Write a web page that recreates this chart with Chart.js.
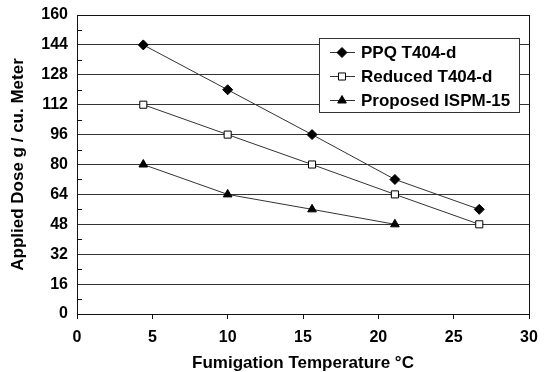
<!DOCTYPE html>
<html>
<head>
<meta charset="utf-8">
<script src="https://cdn.jsdelivr.net/npm/chart.js@4"></script>
<style>
  html, body { margin: 0; padding: 0; background: #fff; }
</style>
</head>
<body>
<canvas id="doseChart" width="550" height="372"></canvas>
<script>
// fumigation temperature (deg C) for each dose point
const temps = [4.4, 10, 15.6, 21.1, 26.7];
const ppqDose = [144, 120, 96, 72, 56];
const reducedDose = [112, 96, 80, 64, 48];
const ispmDose = [80, 64, 56, 48]; // no point at 26.7

const seriesNames = ['PPQ T404-d', 'Reduced T404-d', 'Proposed ISPM-15'];
const xTicks = [0, 5, 10, 15, 20, 25, 30];
const yTicks = [0, 16, 32, 48, 64, 80, 96, 112, 128, 144, 160];

const FONT = '"Liberation Sans", Arial, sans-serif';

function toPoints(ys) {
  return ys.map((y, i) => ({ x: temps[i], y: y }));
}

// box round the plot, minor ticks and the boxed legend
const framePlugin = {
  id: 'frame',
  afterDraw(chart) {
    const ctx = chart.ctx;
    const a = chart.chartArea;
    const yScale = chart.scales.y;
    ctx.save();
    ctx.strokeStyle = '#111';
    ctx.lineWidth = 1;
    ctx.strokeRect(Math.round(a.left) + 0.5, Math.round(a.top) + 0.5,
      Math.round(a.right - a.left), Math.round(a.bottom - a.top));

    // minor ticks halfway between the gridlines
    for (let i = 0; i < yTicks.length - 1; i++) {
      const v = (yTicks[i] + yTicks[i + 1]) / 2;
      const py = Math.round(yScale.getPixelForValue(v)) + 0.5;
      ctx.beginPath();
      ctx.moveTo(a.left, py);
      ctx.lineTo(a.left + 5, py);
      ctx.stroke();
    }

    // legend box
    const bx = Math.round(a.left) + 242, by = Math.round(a.top) + 23, bw = 200, bh = 74;
    ctx.fillStyle = '#fff';
    ctx.fillRect(bx, by, bw, bh);
    ctx.strokeStyle = '#333';
    ctx.strokeRect(bx + 0.5, by + 0.5, bw, bh);
    ctx.font = 'bold 17px ' + FONT;
    ctx.textBaseline = 'middle';
    chart.data.datasets.forEach((ds, i) => {
      const cy = by + 14.5 + i * 24;
      ctx.strokeStyle = ds.borderColor;
      ctx.lineWidth = 1;
      ctx.beginPath();
      ctx.moveTo(bx + 11, cy);
      ctx.lineTo(bx + 36, cy);
      ctx.stroke();
      ctx.fillStyle = ds.pointBackgroundColor;
      ctx.strokeStyle = '#000';
      Chart.helpers.drawPoint(ctx, {
        pointStyle: ds.pointStyle,
        radius: ds.pointRadius,
        borderWidth: 1
      }, bx + 23, cy);
      ctx.fillStyle = '#000';
      ctx.fillText(ds.label, bx + 42, cy + 1);
    });
    ctx.restore();
  }
};

function makeSet(label, ys, style, fill, radius) {
  return {
    label: label,
    data: toPoints(ys),
    borderColor: '#333',
    borderWidth: 1,
    pointStyle: style,
    pointRadius: radius,
    pointBackgroundColor: fill,
    pointBorderColor: '#000',
    pointBorderWidth: 1,
    backgroundColor: fill,
    tension: 0
  };
}

const ctx = document.getElementById('doseChart');
Chart.defaults.font.family = FONT;
Chart.defaults.color = '#000';

new Chart(ctx, {
  type: 'line',
  data: {
    datasets: [
      makeSet(seriesNames[0], ppqDose, 'rectRot', '#000', 5),
      makeSet(seriesNames[1], reducedDose, 'rect', '#fff', 5),
      makeSet(seriesNames[2], ispmDose, 'triangle', '#000', 5)
    ]
  },
  options: {
    responsive: false,
    animation: false,
    devicePixelRatio: 1,
    layout: { padding: { top: 15, right: 21, bottom: 0, left: 8 } },
    plugins: {
      legend: { display: false },
      tooltip: { enabled: false }
    },
    scales: {
      x: {
        type: 'linear',
        min: 0,
        max: 30,
        afterBuildTicks: (s) => { s.ticks = xTicks.map(v => ({ value: v })); },
        afterFit: (s) => { s.height = 58; s.paddingLeft = 0; s.paddingRight = 0; },
        ticks: { font: { size: 16, weight: 'bold' }, padding: 9, color: '#000', autoSkip: false, maxRotation: 0 },
        grid: { display: true, drawOnChartArea: false, drawTicks: true, tickLength: 5, color: '#111' },
        border: { color: '#111' },
        title: {
          display: true,
          text: 'Fumigation Temperature °C',
          font: { size: 17, weight: 'bold', lineHeight: 1 },
          padding: { top: 0, bottom: 0 }
        }
      },
      y: {
        min: 0,
        max: 160,
        afterBuildTicks: (s) => { s.ticks = yTicks.map(v => ({ value: v })); },
        afterFit: (s) => { s.width = 69; s.paddingTop = 0; s.paddingBottom = 0; },
        ticks: { font: { size: 16, weight: 'bold' }, padding: 9, color: '#000', autoSkip: false },
        grid: { color: '#333', lineWidth: 1, drawTicks: false },
        border: { color: '#111' },
        title: {
          display: true,
          text: 'Applied Dose g / cu. Meter',
          font: { size: 17, weight: 'bold' },
          padding: { top: 0, bottom: 0 }
        }
      }
    }
  },
  plugins: [framePlugin]
});
</script>
</body>
</html>
